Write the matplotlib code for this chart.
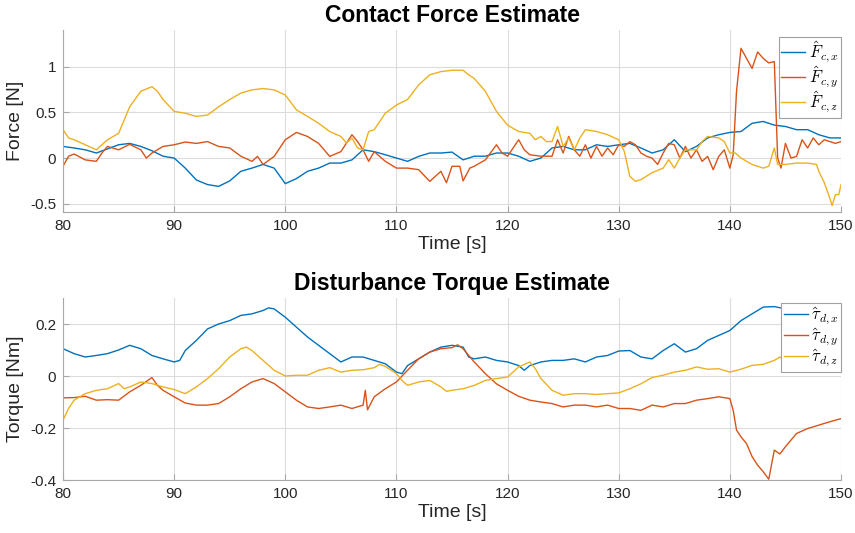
import numpy as np
import matplotlib.pyplot as plt

plt.rcParams['font.family'] = ['Liberation Sans', 'DejaVu Sans']
plt.rcParams['mathtext.fontset'] = 'cm'

# ---- contact force estimate (top) ----
t_fx = [80, 81, 82, 83, 84, 85, 86, 87, 88, 89, 90, 91, 92, 93, 94, 95, 96, 97, 98, 99,
        100, 101, 102, 103, 104, 105, 106, 107, 108, 109, 110, 111, 112, 113, 114, 115,
        116, 117, 118, 119, 120, 121, 122, 123, 124, 125, 126, 127, 128, 129, 130, 131,
        132, 133, 134, 135, 136, 137, 138, 139, 140, 141, 142, 143, 144, 145, 146, 147,
        148, 149, 150]
fx = [0.127, 0.11, 0.09, 0.055, 0.10, 0.145, 0.16, 0.127, 0.08, 0.02, 0.0, -0.11, -0.24,
      -0.29, -0.31, -0.25, -0.145, -0.11, -0.07, -0.11, -0.28, -0.225, -0.145, -0.11,
      -0.055, -0.055, -0.02, 0.09, 0.07, 0.036, 0.0, -0.036, 0.018, 0.055, 0.055, 0.065,
      -0.02, 0.02, 0.02, 0.055, 0.055, 0.02, -0.036, 0.0, 0.11, 0.127, 0.09, 0.09, 0.145,
      0.127, 0.145, 0.16, 0.11, 0.055, 0.09, 0.2, 0.07, 0.127, 0.22, 0.255, 0.28, 0.29,
      0.38, 0.40, 0.36, 0.345, 0.31, 0.31, 0.255, 0.22, 0.22]

t_fy = [80, 80.5, 81, 82, 83, 83.5, 84, 85, 86, 87, 87.5, 88, 89, 90, 91, 92, 93, 94, 95,
        96, 97, 97.5, 98, 99, 100, 101, 102, 103, 104, 105, 106, 106.5, 107, 107.5, 108,
        109, 110, 111, 112, 113, 114, 114.5, 115, 115.7, 116, 116.6, 117, 118, 119, 119.5,
        120, 120.5, 121, 121.5, 122, 123, 124, 124.5, 125, 125.5, 126, 126.5, 127, 127.5,
        128, 128.5, 129, 129.5, 130, 130.5, 131, 131.5, 132, 132.5, 133, 133.5, 134, 134.5,
        135, 135.5, 136, 136.5, 137, 137.5, 138, 138.5, 139, 139.5, 140, 140.3, 140.6, 141,
        141.5, 142, 142.5, 143, 143.5, 144, 144.3, 144.6, 145, 145.5, 146, 146.5, 147,
        147.5, 148, 148.5, 149, 149.5, 150]
fy = [-0.09, 0.02, 0.044, -0.02, -0.036, 0.055, 0.127, 0.09, 0.15, 0.09, 0.0, 0.055, 0.127,
      0.145, 0.175, 0.16, 0.18, 0.127, 0.11, 0.02, -0.036, 0.018, -0.07, 0.018, 0.2, 0.28,
      0.236, 0.16, 0.018, 0.07, 0.255, 0.18, 0.09, -0.036, 0.07, -0.036, -0.11, -0.11,
      -0.127, -0.255, -0.145, -0.27, -0.09, -0.09, -0.25, -0.11, -0.09, -0.02, 0.145, 0.055,
      0.02, 0.11, 0.2, 0.09, 0.036, 0.02, 0.02, 0.2, 0.055, 0.236, 0.09, 0.02, 0.145, 0.0,
      0.127, 0.02, 0.11, 0.036, 0.145, 0.127, 0.18, 0.145, 0.055, 0.02, 0.0, -0.07, 0.055,
      0.16, 0.145, 0.0, 0.127, 0.0, 0.09, -0.036, 0.018, -0.127, 0.018, 0.09, -0.11, 0.036,
      0.73, 1.2, 1.09, 0.98, 1.16, 1.09, 1.04, 1.055, 0.0, -0.11, 0.16, 0.0, 0.018, 0.2,
      0.11, 0.22, 0.145, 0.2, 0.18, 0.16, 0.18]

t_fz = [80, 80.5, 81, 82, 83, 83.5, 84, 85, 86, 87, 88, 88.5, 89, 90, 91, 92, 93, 94, 95,
        96, 97, 98, 99, 100, 101, 102, 103, 104, 105, 105.5, 106, 106.5, 107, 107.5, 108,
        109, 110, 111, 112, 113, 114, 115, 116, 116.5, 117, 118, 119, 120, 121, 122, 122.5,
        123, 123.5, 124, 124.5, 125, 125.5, 126, 126.5, 127, 128, 129, 130, 130.5, 131,
        131.5, 132, 133, 134, 134.5, 135, 135.5, 136, 137, 137.5, 138, 139, 139.5, 140,
        140.5, 141, 142, 143, 143.5, 144, 144.3, 145, 146, 147, 147.8, 148, 148.5, 149,
        149.2, 149.5, 149.8, 150]
fz = [0.31, 0.22, 0.2, 0.145, 0.09, 0.145, 0.2, 0.27, 0.56, 0.73, 0.78, 0.73, 0.64, 0.51,
      0.49, 0.455, 0.47, 0.56, 0.64, 0.71, 0.745, 0.76, 0.745, 0.69, 0.527, 0.455, 0.38,
      0.29, 0.236, 0.164, 0.218, 0.11, 0.09, 0.29, 0.31, 0.49, 0.58, 0.64, 0.8, 0.91, 0.945,
      0.96, 0.96, 0.91, 0.87, 0.73, 0.51, 0.36, 0.29, 0.27, 0.2, 0.236, 0.18, 0.18, 0.345,
      0.127, 0.218, 0.09, 0.218, 0.31, 0.29, 0.255, 0.2, 0.073, -0.2, -0.255, -0.236, -0.16,
      -0.11, -0.018, -0.11, 0.0, 0.09, 0.09, 0.18, 0.236, 0.22, 0.18, 0.055, 0.055, 0.0,
      -0.07, -0.11, -0.09, 0.11, -0.07, -0.07, -0.055, -0.055, -0.07, -0.145, -0.27, -0.44,
      -0.52, -0.4, -0.4, -0.29]

# ---- disturbance torque estimate (bottom) ----
t_tx = [80, 81, 82, 83, 84, 85, 86, 87, 88, 89, 90, 90.5, 91, 92, 93, 94, 95, 96, 97, 98,
        98.5, 99, 100, 101, 102, 103, 104, 105, 106, 107, 108, 109, 110, 110.5, 111, 112,
        113, 114, 115, 116, 116.5, 117, 118, 119, 120, 121, 121.5, 122, 123, 124, 125, 126,
        127, 128, 129, 130, 131, 132, 133, 134, 135, 136, 137, 138, 139, 140, 141, 142, 143,
        144, 145, 146, 147, 148, 149, 150]
tx = [0.105, 0.086, 0.073, 0.079, 0.086, 0.1, 0.118, 0.105, 0.079, 0.066, 0.054, 0.06,
      0.098, 0.137, 0.181, 0.2, 0.213, 0.233, 0.239, 0.252, 0.262, 0.258, 0.226, 0.188,
      0.15, 0.118, 0.086, 0.054, 0.073, 0.073, 0.06, 0.047, 0.015, 0.009, 0.04, 0.066,
      0.092, 0.111, 0.118, 0.111, 0.073, 0.066, 0.073, 0.06, 0.054, 0.04, 0.022, 0.04, 0.054,
      0.06, 0.06, 0.066, 0.054, 0.073, 0.079, 0.096, 0.098, 0.073, 0.066, 0.098, 0.124,
      0.092, 0.105, 0.137, 0.156, 0.175, 0.213, 0.239, 0.265, 0.267, 0.258, 0.245, 0.233,
      0.226, 0.213, 0.194]

t_ty = [80, 81, 82, 83, 84, 85, 86, 87, 88, 88.5, 89, 90, 91, 92, 93, 94, 95, 96, 97, 98,
        99, 100, 101, 102, 103, 104, 105, 106, 107, 107.2, 107.4, 108, 109, 110, 111, 112,
        113, 114, 115, 115.5, 116, 116.5, 117, 118, 119, 120, 121, 122, 123, 124, 125, 126,
        127, 128, 129, 130, 131, 132, 133, 134, 135, 136, 137, 138, 139, 140, 140.3, 140.6,
        141, 141.5, 142, 142.5, 143, 143.5, 144, 144.5, 145, 146, 147, 148, 149, 150]
ty = [-0.084, -0.083, -0.078, -0.093, -0.091, -0.093, -0.061, -0.036, -0.006, -0.036,
      -0.055, -0.08, -0.104, -0.112, -0.112, -0.106, -0.08, -0.049, -0.023, -0.01, -0.029,
      -0.061, -0.093, -0.119, -0.125, -0.119, -0.112, -0.125, -0.112, -0.055, -0.13, -0.08,
      -0.049, -0.023, 0.022, 0.066, 0.092, 0.105, 0.109, 0.12, 0.105, 0.079, 0.054, 0.009,
      -0.03, -0.055, -0.078, -0.093, -0.1, -0.106, -0.119, -0.112, -0.112, -0.119, -0.112,
      -0.125, -0.125, -0.132, -0.112, -0.119, -0.106, -0.106, -0.093, -0.087, -0.08, -0.087,
      -0.132, -0.208, -0.234, -0.26, -0.31, -0.343, -0.368, -0.397, -0.285, -0.3, -0.272,
      -0.221, -0.202, -0.189, -0.176, -0.164]

t_tz = [80, 80.5, 81, 82, 83, 84, 85, 85.5, 86, 87, 88, 89, 90, 91, 92, 93, 94, 95, 96,
        96.5, 97, 98, 99, 100, 101, 102, 103, 104, 105, 106, 107, 108, 108.5, 109, 110,
        110.5, 111, 112, 113, 114, 114.5, 115, 116, 117, 118, 119, 120, 121, 122, 122.5,
        123, 124, 125, 126, 127, 128, 129, 130, 131, 132, 133, 134, 135, 136, 137, 138, 139,
        140, 141, 142, 143, 144, 144.5, 145, 146, 147, 148, 149, 150]
tz = [-0.17, -0.125, -0.093, -0.068, -0.055, -0.049, -0.029, -0.049, -0.042, -0.023,
      -0.029, -0.042, -0.052, -0.068, -0.042, -0.01, 0.028, 0.073, 0.105, 0.111, 0.098,
      0.06, 0.022, 0.0, 0.003, 0.003, 0.022, 0.032, 0.015, 0.022, 0.024, 0.032, 0.045, 0.037,
      0.009, -0.017, -0.036, -0.023, -0.017, -0.042, -0.059, -0.055, -0.049, -0.036, -0.017,
      -0.01, -0.004, 0.035, 0.054, 0.028, -0.01, -0.055, -0.074, -0.068, -0.068, -0.071,
      -0.068, -0.065, -0.049, -0.03, -0.006, 0.003, 0.015, 0.022, 0.035, 0.026, 0.028, 0.015,
      0.026, 0.041, 0.045, 0.06, 0.073, 0.054, 0.054, 0.06, 0.047, 0.035, 0.037]

colors = ['#0072BD', '#D95319', '#EDB120']
force_labels = [r'$\hat{F}_{c,x}$', r'$\hat{F}_{c,y}$', r'$\hat{F}_{c,z}$']
torque_labels = [r'$\hat{\tau}_{d,x}$', r'$\hat{\tau}_{d,y}$', r'$\hat{\tau}_{d,z}$']

fig = plt.figure(figsize=(8.55, 5.33), dpi=100)
ax1 = fig.add_axes([63 / 855, (533 - 212) / 533, 778 / 855, 182 / 533])
ax2 = fig.add_axes([63 / 855, (533 - 480) / 533, 778 / 855, 182 / 533])


def style(ax):
    ax.set_xlim(80, 150)
    ax.set_xticks(np.arange(80, 151, 10))
    ax.grid(True, color='#dcdcdc', linewidth=0.8)
    ax.set_axisbelow(True)
    for s in ['top', 'right']:
        ax.spines[s].set_visible(False)
    for s in ['left', 'bottom']:
        ax.spines[s].set_color('#a8a8a8')
        ax.spines[s].set_linewidth(0.8)
    ax.tick_params(direction='in', length=4, color='#a8a8a8', labelsize=11,
                   labelcolor='#262626', pad=5)
    ax.set_xlabel('Time [s]', fontsize=14, color='#262626', labelpad=2)


ax1.plot(t_fx, fx, color=colors[0], lw=1.0, label=force_labels[0])
ax1.plot(t_fy, fy, color=colors[1], lw=1.0, label=force_labels[1])
ax1.plot(t_fz, fz, color=colors[2], lw=1.0, label=force_labels[2])
style(ax1)
ax1.set_ylim(-0.59, 1.4)
ax1.set_yticks([-0.5, 0, 0.5, 1])
ax1.set_yticklabels(['-0.5', '0', '0.5', '1'])
ax1.set_ylabel('Force [N]', fontsize=14, color='#262626', labelpad=4)
ax1.set_title('Contact Force Estimate', fontsize=16.5, fontweight='bold', pad=6)

ax2.plot(t_tx, tx, color=colors[0], lw=1.0, label=torque_labels[0])
ax2.plot(t_ty, ty, color=colors[1], lw=1.0, label=torque_labels[1])
ax2.plot(t_tz, tz, color=colors[2], lw=1.0, label=torque_labels[2])
style(ax2)
ax2.set_ylim(-0.4, 0.3)
ax2.set_yticks([-0.4, -0.2, 0, 0.2])
ax2.set_yticklabels(['-0.4', '-0.2', '0', '0.2'])
ax2.set_ylabel('Torque [Nm]', fontsize=14, color='#262626', labelpad=4)
ax2.set_title('Disturbance Torque Estimate', fontsize=16.5, fontweight='bold', pad=6)

for ax, top in ((ax1, 0.962), (ax2, 0.973)):
    leg = ax.legend(loc='upper right', bbox_to_anchor=(1.0, top), fontsize=12,
                    fancybox=False, framealpha=1, edgecolor='#a0a0a0',
                    handlelength=1.45, handletextpad=0.2, borderpad=0.15,
                    labelspacing=0.0, borderaxespad=0.0)
    leg.get_frame().set_linewidth(0.8)

fig.savefig('out.png', dpi=100)
